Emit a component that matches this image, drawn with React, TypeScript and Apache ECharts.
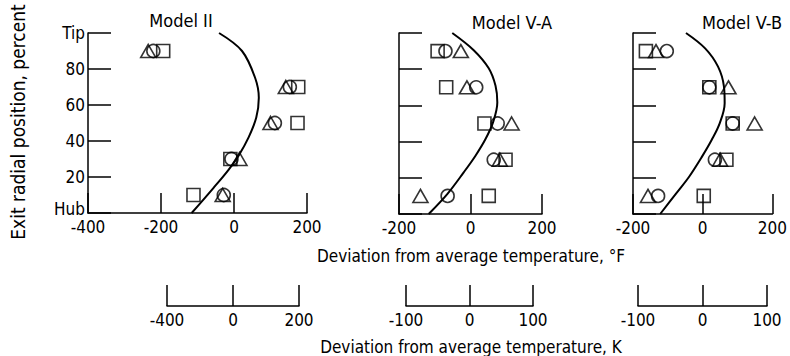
import React, { useEffect, useRef } from "react";
import * as echarts from "echarts";

const FONT = "'DejaVu Sans Condensed', 'DejaVu Sans', sans-serif";

const panelTitles = ["Model II", "Model V-A", "Model V-B"];
const radialPositions = [90, 70, 50, 30, 10];

// Model II
const m2Circle = [-221, 153, 112, -7, -28];
const m2Square = [-194, 176, 174, -10, -111];
const m2Triangle = [-235, 142, 100, 15, -31];
const m2Curve = [[-41, 100], [22, 90], [58, 75], [68, 64], [61, 53], [40, 42], [13, 32], [-15, 24], [-56, 14], [-116, 0]];

// Model V-A
const vaCircle = [-70, 16, 76, 65, -64];
const vaSquare = [-92, -68, 39, 98, 51];
const vaTriangle = [-27, -10, 115, 82, -140];
const vaCurve = [[-51, 100], [9, 90.5], [51, 80.5], [70, 70.8], [75, 61.6], [63, 50.6], [42, 41.4], [14, 32.2], [-19, 23], [-65, 11], [-117, 0]];

// Model V-B
const vbCircle = [-103, 19, 86, 35, -128];
const vbSquare = [-163, 19, 86, 68, 3];
const vbTriangle = [-134, 74, 149, 50, -157];
const vbCurve = [[-48, 100], [7, 91.5], [44, 81.4], [61, 70.4], [63, 61.2], [49, 50.2], [26, 41], [-2, 31.7], [-39, 20.6], [-76, 11.4], [-122, 0]];

const fAxisRanges = [[-400, 200], [-200, 200], [-200, 200]];
const kTickLabels = [["-400", "0", "200"], ["-100", "0", "100"], ["-100", "0", "100"]];

const yAxisTitle = "Exit radial position, percent";
const fTitle = "Deviation from average temperature, \u00B0F";
const kTitle = "Deviation from average temperature, K";

export default function App() {
  const ref = useRef<HTMLDivElement>(null);
  useEffect(() => {
    if (!ref.current) return;
    const chart = echarts.init(ref.current, null, { renderer: "svg" });
    const W = 790;
    const topGrids = [
      { left: 88, right: W - 307, top: 33, height: 180 },
      { left: 399, right: W - 542, top: 33, height: 181 },
      { left: 633, right: W - 777, top: 33, height: 181 },
    ];
    const kGrids = [
      { left: 167, right: W - 299, top: 285, height: 21 },
      { left: 406, right: W - 533, top: 285, height: 21 },
      { left: 638, right: W - 767, top: 285, height: 21 },
    ];
    const grids = [...topGrids, ...kGrids];
    const xAxes: any[] = [];
    const yAxes: any[] = [];
    const line = { show: true, lineStyle: { color: "#000", width: 1.5 } };
    topGrids.forEach((g, i) => {
      xAxes.push({
        type: "value", gridIndex: i, min: fAxisRanges[i][0], max: fAxisRanges[i][1], interval: 200,
        axisLine: { ...line, onZero: false },
        axisTick: { show: true, inside: true, length: 20, lineStyle: { color: "#000", width: 1.5 } },
        axisLabel: { color: "#000", fontFamily: FONT, fontSize: 17, margin: 5 },
        splitLine: { show: false },
      });
      yAxes.push({
        type: "value", gridIndex: i, min: 0, max: 100, interval: 20,
        axisLine: { ...line, onZero: false },
        axisTick: { show: true, inside: true, length: 23, lineStyle: { color: "#000", width: 1.5 } },
        axisLabel: {
          show: i === 0, color: "#000", fontFamily: FONT, fontSize: 17, margin: 3,
          formatter: (v: number) => (v === 0 ? "{hub|Hub}" : v === 100 ? "Tip" : String(v)),
          rich: { hub: { fontFamily: FONT, fontSize: 17, color: "#000", padding: [0, 0, 9, 0] } },
        },
        splitLine: { show: false },
      });
    });
    kGrids.forEach((g, i) => {
      xAxes.push({
        type: "value", gridIndex: 3 + i, min: -1, max: 1, interval: 1,
        axisLine: { ...line, onZero: false },
        axisTick: { show: true, inside: true, length: 21, lineStyle: { color: "#000", width: 1.5 } },
        axisLabel: {
          color: "#000", fontFamily: FONT, fontSize: 17, margin: 5,
          formatter: (v: number) => kTickLabels[i][v + 1],
        },
        splitLine: { show: false },
      });
      yAxes.push({ type: "value", gridIndex: 3 + i, min: 0, max: 1, show: false });
    });

    const sets = [
      [m2Circle, m2Square, m2Triangle, m2Curve],
      [vaCircle, vaSquare, vaTriangle, vaCurve],
      [vbCircle, vbSquare, vbTriangle, vbCurve],
    ] as any[];
    const symbols = ["circle", "rect", "triangle"];
    const series: any[] = [];
    sets.forEach((s, i) => {
      series.push({
        type: "line", xAxisIndex: i, yAxisIndex: i, data: s[3], smooth: 0.35,
        showSymbol: false, lineStyle: { color: "#000", width: 2 }, silent: true,
      });
      for (let k = 0; k < 3; k++) {
        series.push({
          type: "scatter", xAxisIndex: i, yAxisIndex: i, symbol: symbols[k],
          symbolSize: k === 2 ? [15, 13] : 13,
          data: s[k].map((v: number, j: number) => [v, radialPositions[j]]),
          itemStyle: { color: "rgba(0,0,0,0)", borderColor: "#000", borderWidth: 1.6 },
        });
      }
    });

    const txt = (x: number, y: number, t: string, size = 17, extra: any = {}) => ({
      type: "text", x, y,
      style: { text: t, fill: "#000", font: `${size}px ${FONT}`, align: "center", verticalAlign: "middle", ...extra },
    });

    chart.setOption({
      animation: false,
      backgroundColor: "#fff",
      grid: grids,
      xAxis: xAxes,
      yAxis: yAxes,
      series,
      graphic: [
        txt(181, 20, panelTitles[0], 18),
        txt(512, 22, panelTitles[1], 18),
        txt(742, 22, panelTitles[2], 18),
        txt(471, 256, fTitle),
        txt(471, 347, kTitle),
        { ...txt(18, 122, yAxisTitle, 19), rotation: Math.PI / 2 },
      ],
    });
    return () => chart.dispose();
  }, []);
  return <div ref={ref} style={{ width: 790, height: 356, position: "absolute", left: 0, top: 0 }} />;
}
